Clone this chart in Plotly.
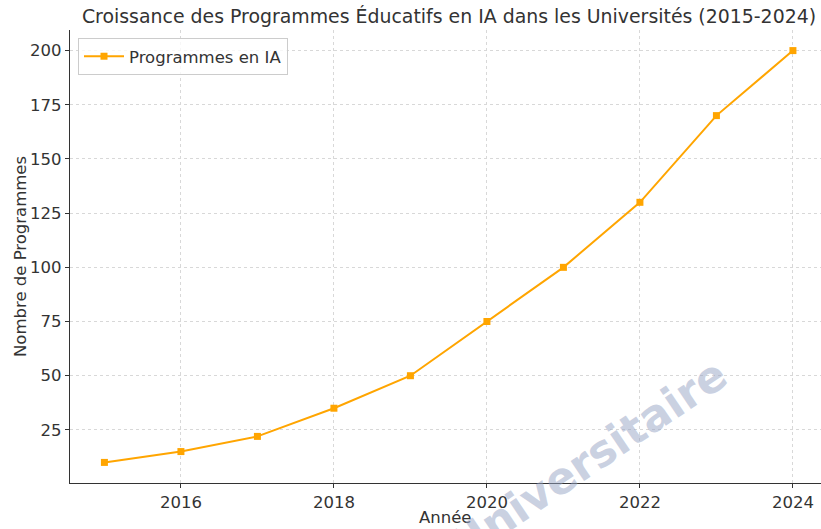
import plotly.graph_objects as go

years = [2015, 2016, 2017, 2018, 2019, 2020, 2021, 2022, 2023, 2024]
programmes = [10, 15, 22, 35, 50, 75, 100, 130, 170, 200]
x_ticks = [2016, 2018, 2020, 2022, 2024]
y_ticks = [25, 50, 75, 100, 125, 150, 175, 200]

W, H = 821, 529
L, R, T, B = 70, 0, 30, 46
PW, PH = W - L - R, H - T - B
FONT = "DejaVu Sans"
TXT = "#333333"
FS = 16.5


def px(xp):
    return (xp - L) / PW


def py(yp):
    return (H - B - yp) / PH


fig = go.Figure()
fig.add_trace(go.Scatter(
    x=years, y=programmes, mode="lines+markers", name="Programmes en IA",
    line=dict(color="#FFA500", width=2),
    marker=dict(symbol="square", size=7, color="#FFA500"),
))

fig.update_layout(
    width=W, height=H,
    margin=dict(l=L, r=R, t=T, b=B, autoexpand=False),
    paper_bgcolor="white", plot_bgcolor="white",
    font=dict(family=FONT, color=TXT, size=FS),
    title=dict(text="Croissance des Programmes Éducatifs en IA dans les Universités (2015-2024)",
               x=449 / W, xref="container", xanchor="center",
               y=1 - 16 / H, yref="container", yanchor="middle",
               font=dict(size=18.9, color=TXT, family=FONT)),
    legend=dict(x=px(78), y=py(38),
                xanchor="left", yanchor="top", itemwidth=40,
                bgcolor="rgba(255,255,255,0.8)", bordercolor="#cccccc", borderwidth=1,
                font=dict(size=FS, color=TXT, family=FONT)),
    showlegend=True,
)

fig.update_xaxes(
    range=[2014.55, 2014.55 + PW / 76.5], automargin=False,
    tickvals=x_ticks, ticktext=[str(v) for v in x_ticks],
    showline=True, linecolor="#333333", linewidth=1.2, mirror=False,
    ticks="outside", ticklen=4, tickcolor="#333333",
    showgrid=True, gridcolor="#d8d8d8", griddash="3px,3px", gridwidth=0.8,
    zeroline=False, tickfont=dict(size=FS, color=TXT),
)
fig.update_yaxes(
    range=[0.5, 209.5], automargin=False,
    tickvals=y_ticks, ticktext=[str(v) for v in y_ticks],
    showline=True, linecolor="#333333", linewidth=1.2, mirror=False,
    ticks="outside", ticklen=4, tickcolor="#333333",
    showgrid=True, gridcolor="#d8d8d8", griddash="3px,3px", gridwidth=0.8,
    zeroline=False, tickfont=dict(size=FS, color=TXT),
)

# axis titles
fig.add_annotation(text="Année", xref="paper", yref="paper", x=px(445), y=py(517),
                   xanchor="center", yanchor="middle", showarrow=False,
                   font=dict(size=FS, color=TXT, family=FONT))
fig.add_annotation(text="Nombre de Programmes", xref="paper", yref="paper", x=px(20), y=py(257),
                   xanchor="center", yanchor="middle", showarrow=False, textangle=-90,
                   font=dict(size=FS, color=TXT, family=FONT))

# watermark
fig.add_annotation(
    text="<b>Universitaire</b>", xref="paper", yref="paper",
    x=px(588), y=py(459),
    xanchor="center", yanchor="middle", showarrow=False, textangle=-34,
    font=dict(size=44, color="rgba(150,163,196,0.5)", family=FONT),
)

fig.write_html(
    "out.html",
    config={"displayModeBar": False},
    post_script="document.body.style.margin='0px';document.body.style.overflow='hidden';",
)
